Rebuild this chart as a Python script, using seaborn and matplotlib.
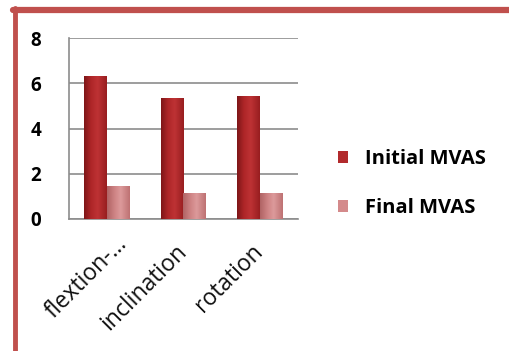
import matplotlib
matplotlib.use("Agg")
import matplotlib.pyplot as plt
import matplotlib.transforms as mtransforms
from matplotlib.colors import LinearSegmentedColormap
import seaborn as sns
import pandas as pd
import numpy as np
from matplotlib.lines import Line2D

categories = ["flextion-…", "inclination", "rotation"]
initial_mvas = [6.3, 5.35, 5.45]
final_mvas = [1.45, 1.15, 1.15]
series_names = ["Initial MVAS", "Final MVAS"]
y_ticks = [0, 2, 4, 6, 8]

df = pd.DataFrame({
    "category": categories * 2,
    "value": initial_mvas + final_mvas,
    "series": [series_names[0]] * 3 + [series_names[1]] * 3,
})

sns.set_style("white")
plt.rcParams['font.family'] = ['Open Sans', 'DejaVu Sans']

W, H = 509, 351
fig = plt.figure(figsize=(W / 100, H / 100), dpi=100)
ax = fig.add_axes([69 / W, 1 - 219 / H, (298 - 69) / W, (219 - 38) / H])

palette = {series_names[0]: "#B22A2C", series_names[1]: "#D48A8B"}
sns.barplot(data=df, x="category", y="value", hue="series", palette=palette,
            width=0.6, gap=0, ax=ax, saturation=1, edgecolor="none", zorder=3)

# shaded (cylinder-like) look of the bars
cmaps = [
    LinearSegmentedColormap.from_list("ini", [(0, "#7E1618"), (0.3, "#AE2628"),
                                              (0.6, "#BE3234"), (1, "#981E20")]),
    LinearSegmentedColormap.from_list("fin", [(0, "#B06465"), (0.35, "#D08586"),
                                              (0.6, "#DC9A9B"), (1, "#BE7273")]),
]
grad = np.linspace(0, 1, 64).reshape(1, -1)
for i, p in enumerate(list(ax.patches)[:6]):
    cm = cmaps[0] if i < 3 else cmaps[1]
    x0, y0 = p.get_x(), p.get_y()
    w, h = p.get_width(), p.get_height()
    im = ax.imshow(grad, cmap=cm, extent=[x0, x0 + w, y0, y0 + h],
                   aspect="auto", zorder=3.5, interpolation="bilinear")
    im.set_clip_path(p)

ax.set_ylim(0, 8)
ax.set_xlim(-0.5, 2.5)
ax.set_yticks(y_ticks)
ax.set_yticklabels([str(t) for t in y_ticks], fontsize=13.5, fontweight="bold",
                   color="black")
ax.yaxis.grid(True, color="#8C8C8C", linewidth=1.2, zorder=0)
ax.set_axisbelow(True)
ax.tick_params(axis="y", length=6, width=1.2, color="#8C8C8C", pad=14)

ax.set_xticks([0, 1, 2])
ax.set_xticklabels(categories, rotation=45, ha="right", va="center",
                   rotation_mode="anchor", fontsize=16.5, color="#111111")
ax.tick_params(axis="x", length=0, pad=21)
ax.set_xticks([-0.5, 0.5, 1.5, 2.5], minor=True)
ax.tick_params(axis="x", which="minor", length=7, width=1.2, color="#8C8C8C")

# truncated first label sits a bit further right/up, as in the reference
lbl0 = ax.get_xticklabels()[0]
lbl0.set_transform(lbl0.get_transform() +
                   mtransforms.ScaledTranslation(0.17, 0.08, fig.dpi_scale_trans))

for s in ["top", "right"]:
    ax.spines[s].set_visible(False)
for s in ["left", "bottom"]:
    ax.spines[s].set_color("#8C8C8C")
    ax.spines[s].set_linewidth(1.2)
ax.set_xlabel("")
ax.set_ylabel("")

leg = ax.legend(loc="center left", bbox_to_anchor=(1.096, 0.196), frameon=False,
                prop={"size": 14.5, "weight": "bold"}, handlelength=0.5,
                handleheight=0.5, labelspacing=1.45, handletextpad=0.85)
for t in leg.get_texts():
    t.set_color("black")

fig.add_artist(Line2D([13 / W, 1.0], [1 - 10 / H, 1 - 10 / H],
                      transform=fig.transFigure, color="#C0504D", linewidth=4.5))
fig.add_artist(Line2D([15 / W, 15 / W], [1 - 8 / H, 0.0],
                      transform=fig.transFigure, color="#C0504D", linewidth=3.5))

fig.savefig("out.png", dpi=100)
